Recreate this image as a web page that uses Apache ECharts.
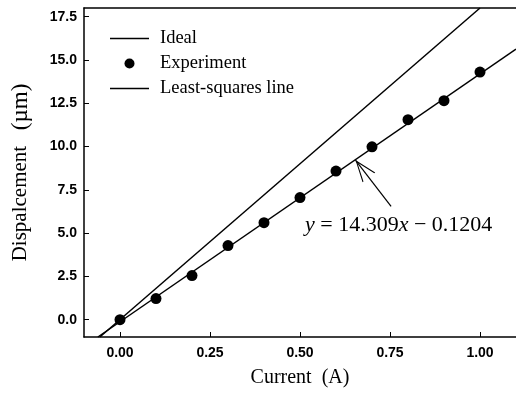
<!DOCTYPE html>
<html>
<head>
<meta charset="utf-8">
<script src="https://cdn.jsdelivr.net/npm/echarts@6/dist/echarts.min.js"></script>
<style>
  html, body { margin: 0; padding: 0; background: #fff; }
  #chart { width: 516px; height: 405px; }
</style>
</head>
<body>
<div id="chart"></div>
<script>
// Displacement vs current: ideal line, measured points, least-squares fit

const currentA = [0.0, 0.1, 0.2, 0.3, 0.4, 0.5, 0.6, 0.7, 0.8, 0.9, 1.0];
const displacementUm = [0.0, 1.22, 2.55, 4.28, 5.6, 7.05, 8.58, 9.98, 11.55, 12.65, 14.3];

// line end points
const idealLine = [[-0.056, -1.0], [1.0, 18.0]];
const fitLine = [[-0.0615, -1.0], [1.1, 15.62]];
const arrowFrom = [0.753, 6.55];
const arrowTo = [0.654, 9.22];

const xTicks = [0, 0.25, 0.5, 0.75, 1.0];
const yTicks = [0, 2.5, 5, 7.5, 10, 12.5, 15, 17.5];

const SERIF = '"Liberation Serif", "Times New Roman", serif';
const SANS = '"Liberation Sans", Arial, sans-serif';

// open V arrow head; the extra move point puts the tip at the symbol centre
const ARROW_HEAD = 'path://M0,-22 M0,0 L8,22 L6.8,22 L0,3 L-6.8,22 L-8,22 Z';
const LEGEND_LINE = 'path://M0,0 M0,4.25 L39,4.25 L39,5.75 L0,5.75 Z M39,10';

const chart = echarts.init(document.getElementById('chart'), null, { renderer: 'canvas' });

const axisCommon = {
  axisLine: { show: true, onZero: false, lineStyle: { color: '#000', width: 1.5 } },
  axisTick: { show: true, inside: true, length: 5, lineStyle: { color: '#000', width: 1 } },
  splitLine: { show: false },
  nameTextStyle: { fontFamily: SERIF, fontSize: 20, color: '#000' }
};

const option = {
  animation: false,
  backgroundColor: '#fff',
  grid: { left: 84, top: 8, right: -2, bottom: 68 },
  legend: {
    orient: 'vertical',
    left: 110,
    top: 29,
    padding: 0,
    itemWidth: 39,
    itemHeight: 10,
    itemGap: 6,
    textStyle: { fontFamily: SERIF, fontSize: 18.5, color: '#000', padding: [0, 0, 0, 6] },
    data: [
      { name: 'Ideal', icon: LEGEND_LINE },
      { name: 'Experiment', icon: 'circle' },
      { name: 'Least-squares line', icon: LEGEND_LINE }
    ]
  },
  xAxis: [{
    ...axisCommon,
    type: 'value',
    min: -0.1,
    max: 1.1,
    name: 'Current  (A)',
    nameLocation: 'middle',
    nameGap: 31,
    axisTick: { ...axisCommon.axisTick, customValues: xTicks },
    axisLabel: {
      customValues: xTicks,
      margin: 9,
      fontFamily: SANS, fontSize: 14, fontWeight: 'bold', color: '#000',
      formatter: v => v.toFixed(2)
    }
  }, {
    type: 'value',
    position: 'top',
    min: -0.1,
    max: 1.1,
    axisLine: { show: true, onZero: false, lineStyle: { color: '#000', width: 1.5 } },
    axisTick: { show: false },
    axisLabel: { show: false },
    splitLine: { show: false }
  }],
  yAxis: {
    ...axisCommon,
    type: 'value',
    min: -1,
    max: 18,
    name: '{a|Dispalcement}   {b|(µm)}',
    nameLocation: 'middle',
    nameGap: 52,
    nameTextStyle: {
      fontFamily: SERIF, fontSize: 21, color: '#000',
      rich: {
        a: { fontFamily: SERIF, fontSize: 21, color: '#000' },
        b: { fontFamily: SERIF, fontSize: 23, color: '#000' }
      }
    },
    axisTick: { ...axisCommon.axisTick, customValues: yTicks },
    axisLabel: {
      customValues: yTicks,
      margin: 7,
      fontFamily: SANS, fontSize: 14, fontWeight: 'bold', color: '#000',
      formatter: v => v.toFixed(1)
    }
  },
  graphic: [{
    type: 'text',
    left: 305,
    top: 214,
    style: {
      text: '{i|y} = 14.309{i|x} − 0.1204',
      font: '22px ' + SERIF,
      fill: '#000',
      rich: {
        i: { fontFamily: SERIF, fontSize: 22, fontStyle: 'italic', fill: '#000' }
      }
    }
  }],
  series: [
    {
      name: 'Ideal',
      type: 'line',
      data: idealLine,
      symbol: 'none',
      lineStyle: { color: '#000', width: 1.5 },
      itemStyle: { color: '#000' }
    },
    {
      name: 'Least-squares line',
      type: 'line',
      data: fitLine,
      symbol: 'none',
      lineStyle: { color: '#000', width: 1.5 },
      itemStyle: { color: '#000' },
      markLine: {
        silent: true,
        symbol: ['none', ARROW_HEAD],
        symbolSize: [16, 44],
        label: { show: false },
        lineStyle: { color: '#000', width: 1.2, type: 'solid' },
        data: [[{ coord: arrowFrom }, { coord: arrowTo }]]
      }
    },
    {
      name: 'Experiment',
      type: 'scatter',
      data: currentA.map((x, i) => [x, displacementUm[i]]),
      symbol: 'circle',
      symbolSize: 11,
      itemStyle: { color: '#000', opacity: 1 },
      z: 5
    }
  ]
};

chart.setOption(option);
</script>
</body>
</html>
